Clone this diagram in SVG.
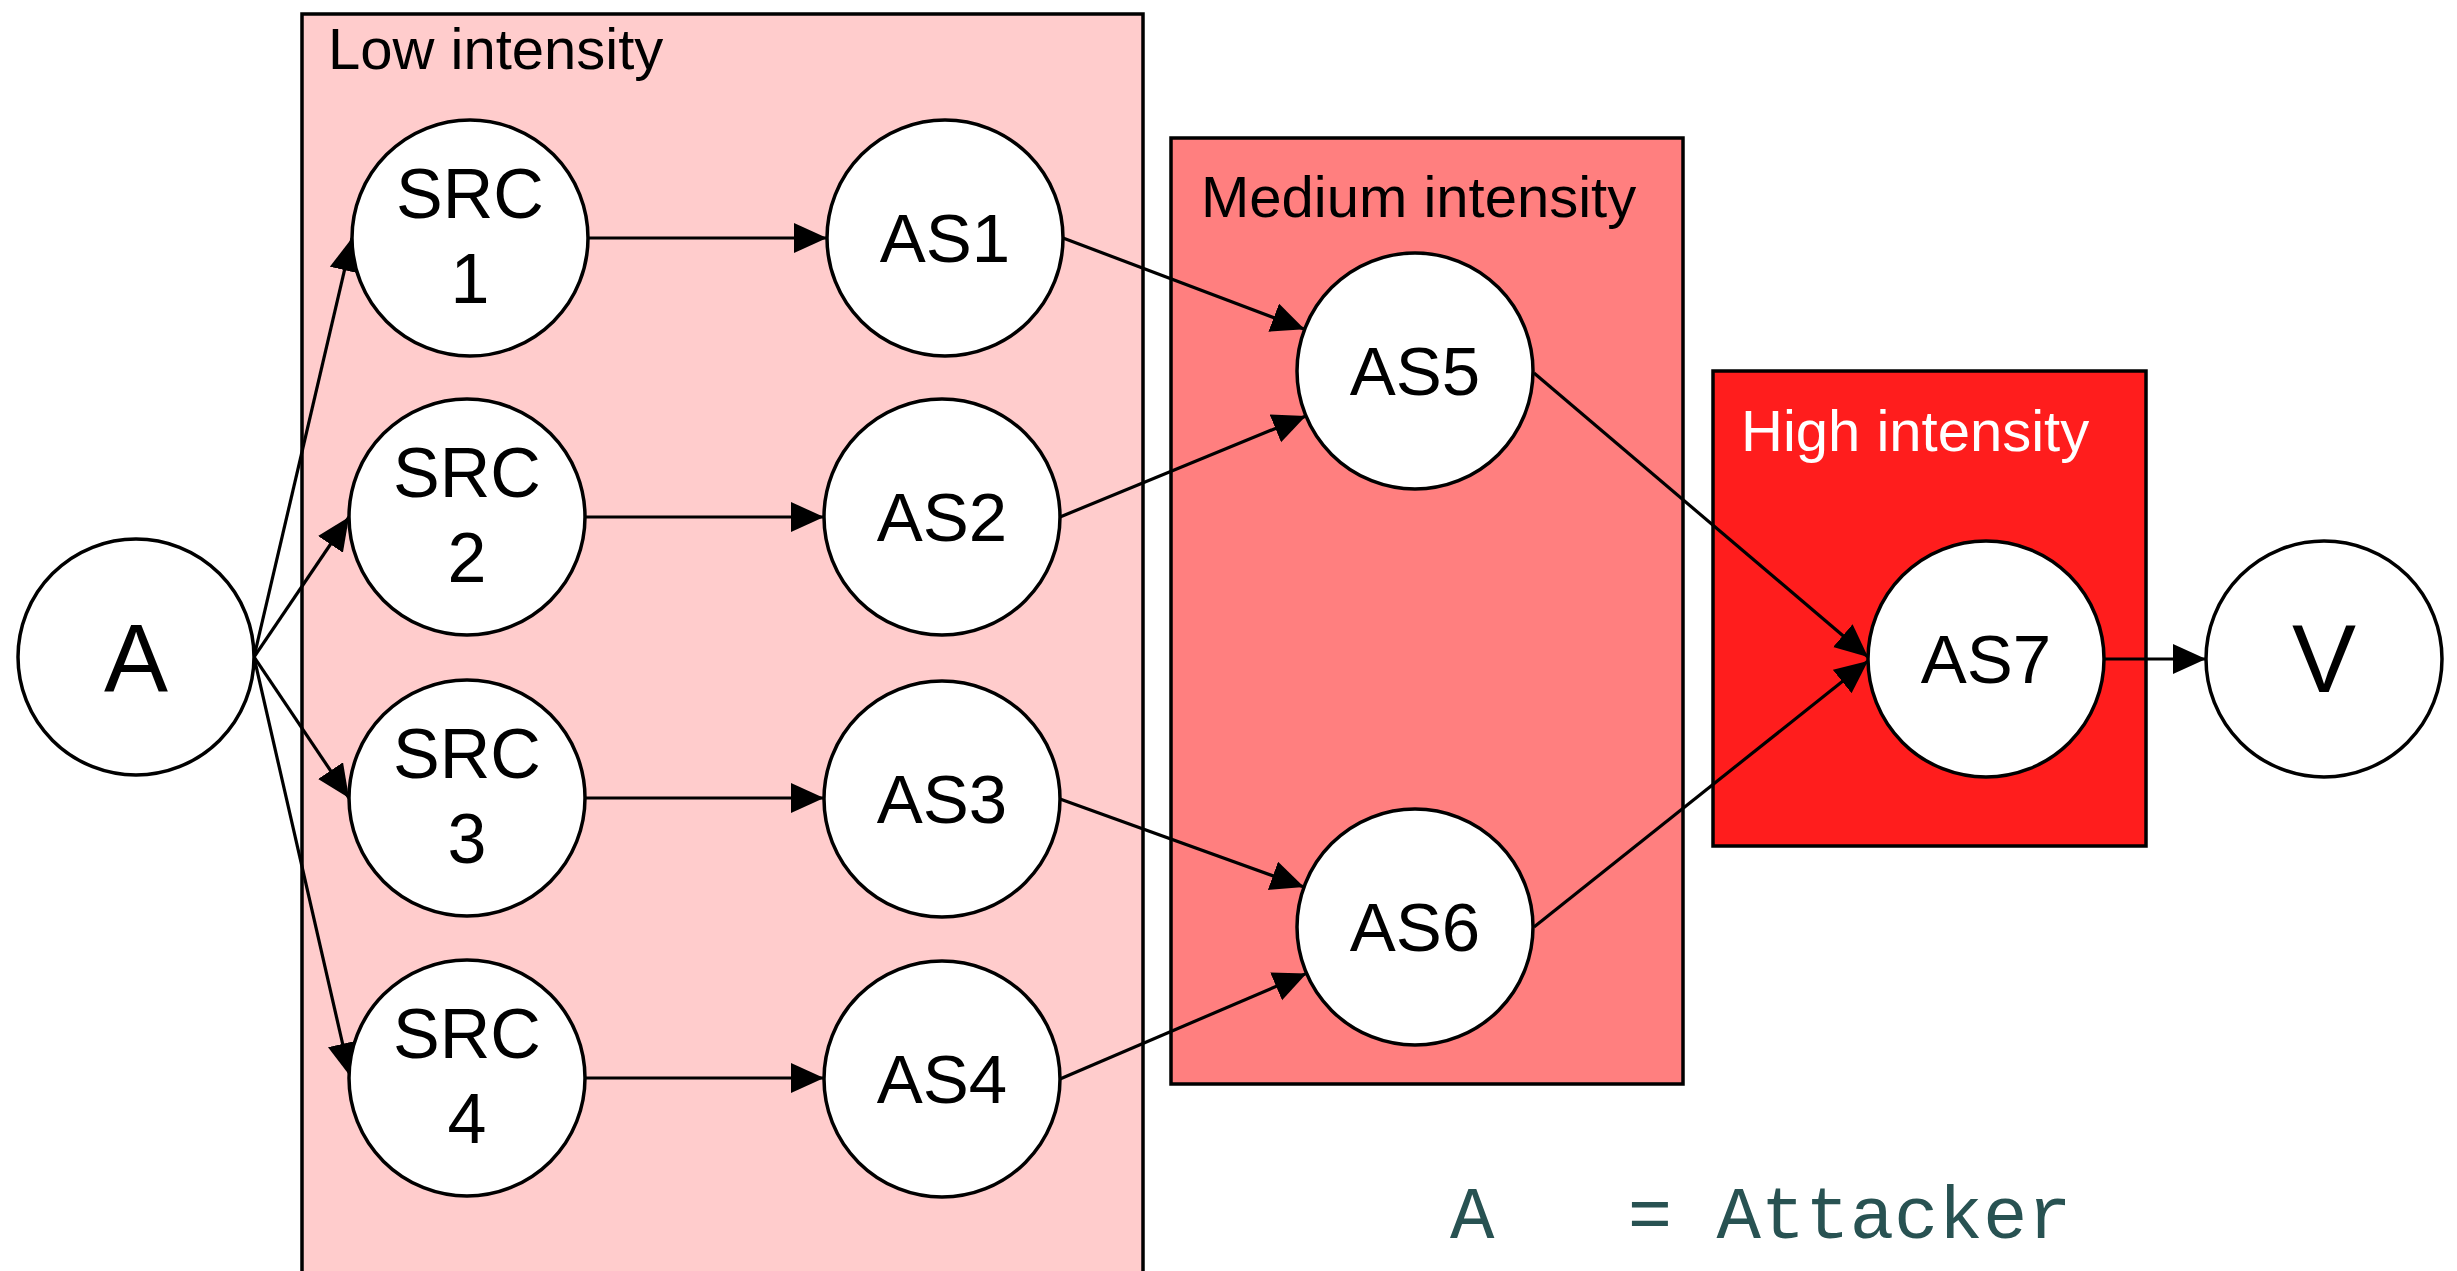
<svg xmlns="http://www.w3.org/2000/svg" width="2457" height="1271" viewBox="0 0 2457 1271">
  <style>
    .zone { stroke: #000; stroke-width: 3.5; }
    .node circle { fill: #fff; stroke: #000; stroke-width: 3.5; }
    .lbl { font-family: "Liberation Sans", Arial, sans-serif; fill: #000; text-anchor: middle; }
    .zlbl { font-family: "Liberation Sans", Arial, sans-serif; font-size: 58px; }
    .edges line { stroke: #000; stroke-width: 3.2; marker-end: url(#arrow); }
  </style>
  <defs>
    <marker id="arrow" markerUnits="userSpaceOnUse" markerWidth="36" markerHeight="32" refX="33" refY="15" orient="auto">
      <path d="M0,0 L33,15 L0,30 Z" fill="#000"/>
    </marker>
  </defs>

  <rect width="2457" height="1271" fill="#fff"/>

  <!-- intensity zones -->
  <g id="zone-low">
    <rect class="zone" x="302" y="14" width="841" height="1270" fill="#ffcccc"/>
    <text class="zlbl" x="328" y="69" fill="#000">Low intensity</text>
  </g>
  <g id="zone-medium">
    <rect class="zone" x="1171" y="138" width="512" height="946" fill="#ff7f7f"/>
    <text class="zlbl" x="1201" y="217" fill="#000">Medium intensity</text>
  </g>
  <g id="zone-high">
    <rect class="zone" x="1713" y="371" width="433" height="475" fill="#ff1d1d"/>
    <text class="zlbl" x="1741" y="451" fill="#fff">High intensity</text>
  </g>

  <!-- connectors -->
  <g id="edges" class="edges">
    <line x1="254" y1="657" x2="352" y2="238"/>
    <line x1="254" y1="657" x2="349" y2="517"/>
    <line x1="254" y1="657" x2="349" y2="798"/>
    <line x1="254" y1="657" x2="350" y2="1076"/>
    <line x1="588" y1="238" x2="827" y2="238"/>
    <line x1="585" y1="517" x2="824" y2="517"/>
    <line x1="585" y1="798" x2="824" y2="798"/>
    <line x1="585" y1="1078" x2="824" y2="1078"/>
    <line x1="1063" y1="238" x2="1304.6" y2="329.3"/>
    <line x1="1060" y1="517" x2="1305.9" y2="415.9"/>
    <line x1="1060" y1="799" x2="1304" y2="887"/>
    <line x1="1060" y1="1079" x2="1306.5" y2="973.4"/>
    <line x1="1534" y1="373" x2="1868" y2="657"/>
    <line x1="1534" y1="927" x2="1868" y2="661"/>
    <line x1="2104" y1="659" x2="2206" y2="659"/>
  </g>

  <!-- nodes -->
  <g id="node-A" class="node">
    <circle cx="136" cy="657" r="118"/>
    <text class="lbl" x="136" y="691" font-size="96">A</text>
  </g>
  <g id="node-SRC1" class="node">
    <circle cx="470" cy="238" r="118"/>
    <text class="lbl" x="470" y="218" font-size="70">SRC</text>
    <text class="lbl" x="470" y="303" font-size="70">1</text>
  </g>
  <g id="node-SRC2" class="node">
    <circle cx="467" cy="517" r="118"/>
    <text class="lbl" x="467" y="497" font-size="70">SRC</text>
    <text class="lbl" x="467" y="582" font-size="70">2</text>
  </g>
  <g id="node-SRC3" class="node">
    <circle cx="467" cy="798" r="118"/>
    <text class="lbl" x="467" y="778" font-size="70">SRC</text>
    <text class="lbl" x="467" y="863" font-size="70">3</text>
  </g>
  <g id="node-SRC4" class="node">
    <circle cx="467" cy="1078" r="118"/>
    <text class="lbl" x="467" y="1058" font-size="70">SRC</text>
    <text class="lbl" x="467" y="1143" font-size="70">4</text>
  </g>
  <g id="node-AS1" class="node">
    <circle cx="945" cy="238" r="118"/>
    <text class="lbl" x="945" y="262" font-size="69">AS1</text>
  </g>
  <g id="node-AS2" class="node">
    <circle cx="942" cy="517" r="118"/>
    <text class="lbl" x="942" y="541" font-size="69">AS2</text>
  </g>
  <g id="node-AS3" class="node">
    <circle cx="942" cy="799" r="118"/>
    <text class="lbl" x="942" y="823" font-size="69">AS3</text>
  </g>
  <g id="node-AS4" class="node">
    <circle cx="942" cy="1079" r="118"/>
    <text class="lbl" x="942" y="1103" font-size="69">AS4</text>
  </g>
  <g id="node-AS5" class="node">
    <circle cx="1415" cy="371" r="118"/>
    <text class="lbl" x="1415" y="395" font-size="69">AS5</text>
  </g>
  <g id="node-AS6" class="node">
    <circle cx="1415" cy="927" r="118"/>
    <text class="lbl" x="1415" y="951" font-size="69">AS6</text>
  </g>
  <g id="node-AS7" class="node">
    <circle cx="1986" cy="659" r="118"/>
    <text class="lbl" x="1986" y="683" font-size="69">AS7</text>
  </g>
  <g id="node-V" class="node">
    <circle cx="2324" cy="659" r="118"/>
    <text class="lbl" x="2324" y="692" font-size="96">V</text>
  </g>

  <!-- legend -->
  <text id="legend" x="1450" y="1238" xml:space="preserve" font-family="'Liberation Mono', 'Courier New', monospace" font-size="74" fill="#285252">A   = Attacker</text>
</svg>
